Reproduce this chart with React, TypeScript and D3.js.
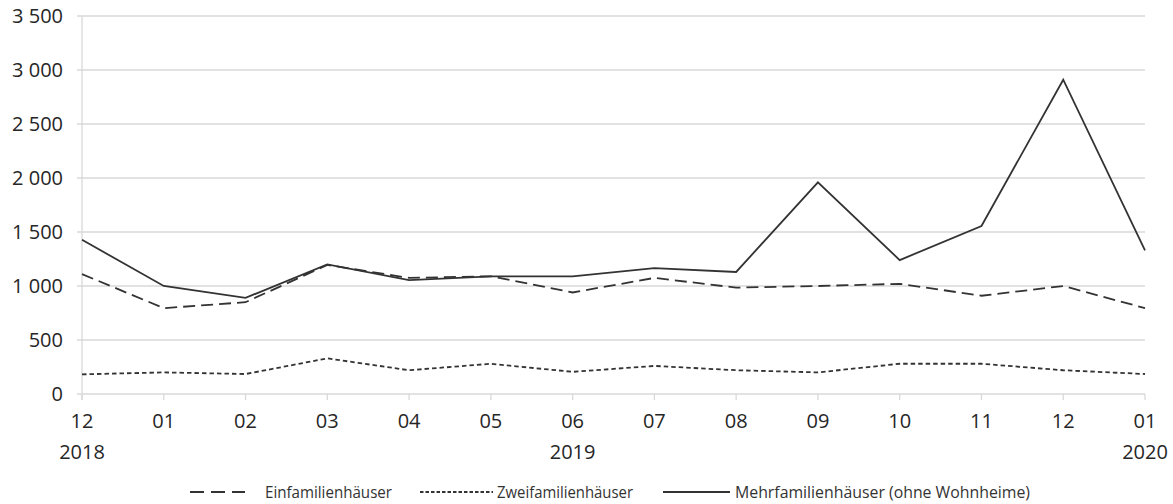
import React, { useRef, useEffect } from 'react'
import * as d3 from 'd3'

// months Dec 2018 .. Jan 2020
const months = ['12', '01', '02', '03', '04', '05', '06', '07', '08', '09', '10', '11', '12', '01']
const years = [
  { idx: 0, label: '2018' },
  { idx: 6, label: '2019' },
  { idx: 13, label: '2020' },
]
const yTicks = [0, 500, 1000, 1500, 2000, 2500, 3000, 3500]

const einfamilien = [1110, 795, 850, 1195, 1075, 1090, 940, 1075, 985, 1000, 1020, 910, 1000, 795]
const zweifamilien = [182, 200, 185, 330, 220, 280, 205, 260, 220, 200, 280, 280, 220, 185]
const mehrfamilien = [1428, 1000, 890, 1200, 1055, 1090, 1090, 1165, 1130, 1960, 1240, 1555, 2910, 1330]

const seriesNames = ['Einfamilienhäuser', 'Zweifamilienhäuser', 'Mehrfamilienhäuser (ohne Wohnheime)']

const W = 1173
const H = 504
const FONT = '"Open Sans", "DejaVu Sans", sans-serif'
const INK = '#262626'
const GRID = '#d9d9d9'

const fmt = d3.formatLocale({ decimal: ',', thousands: ' ', grouping: [3], currency: ['', ''] }).format(',d')

export default function App() {
  const svgRef = useRef<SVGSVGElement>(null)

  useEffect(() => {
    if (!svgRef.current) return
    const svg = d3.select(svgRef.current)
    svg.selectAll('*').remove()

    const left = 82
    const right = 1145
    const top = 16
    const bottom = 394

    const x = d3.scalePoint<number>().domain(d3.range(months.length)).range([left, right])
    const y = d3.scaleLinear().domain([0, 3500]).range([bottom, top])

    // horizontal grid
    svg.append('g')
      .selectAll('line')
      .data(yTicks)
      .join('line')
      .attr('x1', left - 5)
      .attr('x2', right)
      .attr('y1', d => y(d))
      .attr('y2', d => y(d))
      .attr('stroke', GRID)
      .attr('stroke-width', 1.3)

    // y axis line
    svg.append('line')
      .attr('x1', left).attr('x2', left)
      .attr('y1', top).attr('y2', bottom + 6)
      .attr('stroke', GRID).attr('stroke-width', 1.3)

    // x ticks
    svg.append('g')
      .selectAll('line')
      .data(d3.range(months.length))
      .join('line')
      .attr('x1', d => x(d)!)
      .attr('x2', d => x(d)!)
      .attr('y1', bottom)
      .attr('y2', bottom + 6)
      .attr('stroke', GRID)
      .attr('stroke-width', 1.3)

    // y labels
    svg.append('g')
      .selectAll('text')
      .data(yTicks)
      .join('text')
      .attr('x', 63)
      .attr('y', d => y(d) + 7)
      .attr('text-anchor', 'end')
      .attr('font-family', FONT)
      .attr('font-size', 20)
      .attr('fill', INK)
      .text(d => fmt(d))

    // month labels
    svg.append('g')
      .selectAll('text')
      .data(months)
      .join('text')
      .attr('x', (_, i) => x(i)!)
      .attr('y', 428)
      .attr('text-anchor', 'middle')
      .attr('font-family', FONT)
      .attr('font-size', 20)
      .attr('fill', INK)
      .text(d => d)

    svg.append('g')
      .selectAll('text')
      .data(years)
      .join('text')
      .attr('x', d => x(d.idx)!)
      .attr('y', 459)
      .attr('text-anchor', 'middle')
      .attr('font-family', FONT)
      .attr('font-size', 20)
      .attr('fill', INK)
      .text(d => d.label)

    const line = d3.line<number>()
      .x((_, i) => x(i)!)
      .y(d => y(d))

    const styles = [
      { data: einfamilien, dash: '12 6' },
      { data: zweifamilien, dash: '4.5 3' },
      { data: mehrfamilien, dash: null as string | null },
    ]

    styles.forEach(s => {
      svg.append('path')
        .attr('d', line(s.data))
        .attr('fill', 'none')
        .attr('stroke', '#333333')
        .attr('stroke-width', 1.8)
        .attr('stroke-dasharray', s.dash)
    })

    // legend
    const legend = [
      { x1: 190, x2: 245, tx: 265, tw: 127, dash: '14 7' },
      { x1: 420, x2: 493, tx: 497, tw: 136, dash: '3.5 2' },
      { x1: 663, x2: 730, tx: 735, tw: 295, dash: null as string | null },
    ]
    const lg = svg.append('g')
    legend.forEach((l, i) => {
      lg.append('line')
        .attr('x1', l.x1).attr('x2', l.x2)
        .attr('y1', 492).attr('y2', 492)
        .attr('stroke', '#333333')
        .attr('stroke-width', 1.8)
        .attr('stroke-dasharray', l.dash)
      lg.append('text')
        .attr('x', l.tx)
        .attr('y', 498)
        .attr('font-family', FONT)
        .attr('font-size', 16)
        .attr('fill', '#333333')
        .attr('textLength', l.tw)
        .attr('lengthAdjust', 'spacingAndGlyphs')
        .text(seriesNames[i])
    })
  }, [])

  return (
    <svg
      ref={svgRef}
      width={W}
      height={H}
      style={{ position: 'absolute', left: 0, top: 0, background: '#fff' }}
    />
  )
}
